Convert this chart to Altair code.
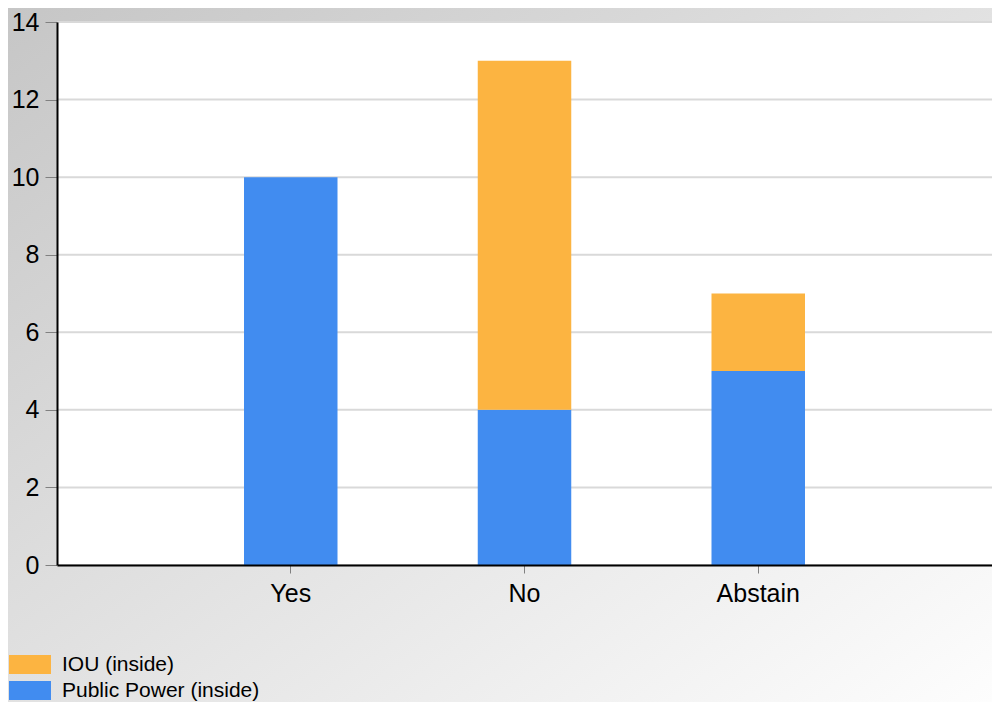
import altair as alt
import pandas as pd

categories = ["Yes", "No", "Abstain"]
series = ["IOU (inside)", "Public Power (inside)"]
public_power = [10, 4, 5]
iou = [0, 9, 2]
y_ticks = [0, 2, 4, 6, 8, 10, 12, 14]
colors = ["#FCB441", "#418CF0"]

rows = []
for i, c in enumerate(categories):
    rows.append({"cat": c, "series": series[1], "value": public_power[i], "ord": 0})
    rows.append({"cat": c, "series": series[0], "value": iou[i], "ord": 1})
df = pd.DataFrame(rows)

W, H = 935, 543
PAD_L, PAD_T, PAD_B = 49, 14, 137
FONT = "Liberation Sans"

one = alt.Data(values=[{"k": 1}])

y_axis = alt.Axis(
    title=None, values=y_ticks, grid=False, labelFont=FONT, labelFontSize=25,
    labelColor="black", domainColor="black", domainWidth=2, tickColor="#808080",
    tickSize=12, labelPadding=6, zindex=1,
)

bg = alt.Chart(one).mark_rect(
    color={
        "gradient": "linear", "x1": 0, "y1": 0, "x2": 1, "y2": 1,
        "stops": [{"offset": 0, "color": "#c6c6c6"}, {"offset": 1, "color": "#fdfdfd"}],
    }
).encode(
    x=alt.value(-PAD_L), x2=alt.value(W), y=alt.value(-PAD_T), y2=alt.value(H + PAD_B)
)

plot_bg = alt.Chart(one).mark_rect(color="white").encode(
    x=alt.value(0), x2=alt.value(W), y=alt.value(0), y2=alt.value(H)
)

grid = alt.Chart(pd.DataFrame({"value": y_ticks})).mark_rule(
    color="#d9d9d9", strokeWidth=2
).encode(
    y=alt.Y("value:Q", scale=alt.Scale(domain=[0, 14]), axis=y_axis)
)

bars = alt.Chart(df).mark_bar().encode(
    x=alt.X(
        "cat:N", sort=categories,
        scale=alt.Scale(paddingInner=0.6, paddingOuter=0.8),
        axis=alt.Axis(
            title=None, labelAngle=0, labelFont=FONT, labelFontSize=25, labelColor="black",
            domainColor="black", domainWidth=2, tickColor="#808080", tickSize=8,
            labelPadding=8, zindex=1,
        ),
    ),
    y=alt.Y("value:Q", stack="zero", scale=alt.Scale(domain=[0, 14]), axis=y_axis),
    color=alt.Color(
        "series:N",
        scale=alt.Scale(domain=series, range=colors),
        legend=alt.Legend(
            title=None, orient="none", legendX=-PAD_L, legendY=632,
            symbolType="M-1,-1H3.42V1H-1Z", symbolSize=361, symbolStrokeWidth=0,
            labelFont=FONT, labelFontSize=21, labelColor="black", labelOffset=33,
            labelLimit=400, rowPadding=4,
        ),
    ),
    order=alt.Order("ord:Q", sort="ascending"),
)

chart = alt.layer(bg, plot_bg, grid, bars).properties(
    width=W, height=H,
    autosize=alt.AutoSizeParams(type="none"),
    padding={"left": PAD_L, "top": PAD_T, "right": 0, "bottom": PAD_B},
).configure_view(stroke=None)

chart.save("out.html", embed_options={"renderer": "svg", "actions": False})
